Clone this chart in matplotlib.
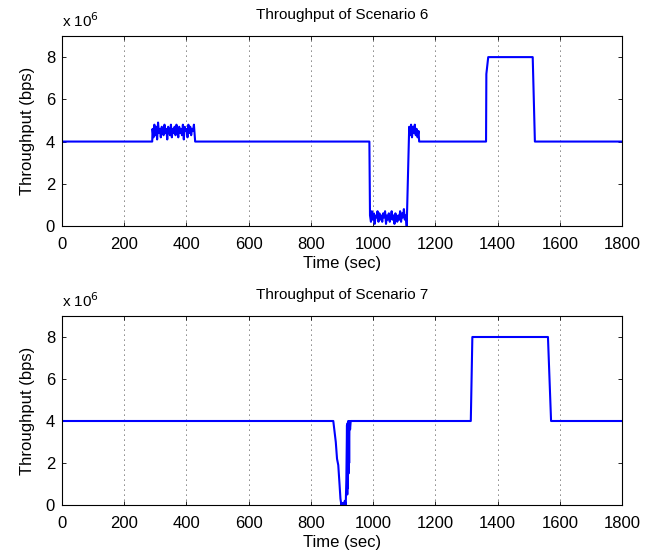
import numpy as np
import matplotlib
matplotlib.use("Agg")
import matplotlib.pyplot as plt

plt.rcParams['font.family'] = ['Liberation Sans', 'DejaVu Sans']

# ---------------- data (values in units of 1e6 bps) ----------------
# Scenario 6
s6_bump1 = [4.6,4.2,4.8,4.3,4.7,4.1,4.9,4.4,4.6,4.2,4.7,4.5,4.3,4.8,4.4,4.6,4.1,4.7,
            4.5,4.3,4.8,4.2,4.6,4.4,4.7,4.3,4.8,4.5,4.2,4.7,4.4,4.6,4.3,4.8,4.1,4.7,
            4.5,4.6,4.2,4.8,4.4,4.7,4.3,4.6,4.5,4.8,4.2]
s6_low = [0.5,0.2,0.7,0.3,0.6,0.1,0.5,0.4,0.7,0.2,0.6,0.3,0.5,0.2,0.6,0.4,0.7,0.1,0.5,
          0.3,0.6,0.2,0.4,0.7,0.3,0.5,0.1,0.6,0.4,0.2,0.5,0.3,0.7,0.2,0.6,0.4,0.8,0.3,0.5,0.0]
s6_high = [4.7,4.3,4.8,4.2,4.7,4.4,4.8,4.3,4.6,4.2,4.5]
s6_steps_t = [1148, 1363, 1364, 1370, 1513, 1520, 1800]
s6_steps_v = [4.0, 4.0, 7.2, 8.0, 8.0, 4.0, 4.0]

# Scenario 7
s7_t = [0, 872, 876, 880, 884, 888, 892, 895, 898, 901, 905, 909, 912, 914, 916, 917,
        918, 919, 920, 921, 922, 923, 924, 926, 928, 1314, 1319, 1562, 1572, 1800]
s7_v = [4.0, 4.0, 3.5, 3.0, 2.2, 1.9, 1.0, 0.3, 0.0, 0.1, 0.0, 0.2, 0.0, 1.2, 3.8, 0.5,
        3.9, 0.8, 4.0, 1.5, 3.9, 2.0, 4.0, 3.6, 4.0, 4.0, 8.0, 8.0, 4.0, 4.0]

# assemble scenario 6 series
t6 = [0, 290]
v6 = [4.0, 4.0]
t6 += list(np.linspace(291, 427, len(s6_bump1)))
v6 += s6_bump1
t6 += [428, 988]
v6 += [4.0, 4.0]
t6 += list(np.linspace(990, 1108, len(s6_low)))
v6 += s6_low
t6 += list(np.linspace(1116, 1146, len(s6_high)))
v6 += s6_high
t6 += s6_steps_t
v6 += s6_steps_v

series = [(t6, v6, "Throughput of Scenario 6"), (s7_t, s7_v, "Throughput of Scenario 7")]

xticks = [0, 200, 400, 600, 800, 1000, 1200, 1400, 1600, 1800]
yticks = [0, 2, 4, 6, 8]

fig = plt.figure(figsize=(6.57, 5.56), dpi=100)
positions = [[62/657, (556-226)/556, 560/657, 190/556],
             [62/657, (556-505)/556, 560/657, 189/556]]

for pos, (t, v, title) in zip(positions, series):
    ax = fig.add_axes(pos)
    ax.plot(t, v, color=(0, 0, 1), lw=1.5)
    ax.set_xlim(0, 1800)
    ax.set_ylim(0, 9)
    ax.set_xticks(xticks)
    ax.set_yticks(yticks)
    ax.xaxis.grid(True, linestyle=(0, (1, 5)), color='black', lw=0.6)
    ax.tick_params(direction='in', length=3, top=True, right=True, labelsize=12, width=0.6, pad=5)
    ax.tick_params(axis='x', pad=8)
    for s in ax.spines.values():
        s.set_linewidth(0.8)
    ax.set_xlabel("Time (sec)", fontsize=12, labelpad=3)
    ax.set_ylabel("Throughput (bps)", fontsize=12, labelpad=8)
    ax.set_title(title, fontsize=11, pad=12)
    ax.text(0.0, 1.03, r"x 10$^{6}$", transform=ax.transAxes, fontsize=11,
            ha='left', va='bottom')

fig.savefig("out.png", dpi=100)
